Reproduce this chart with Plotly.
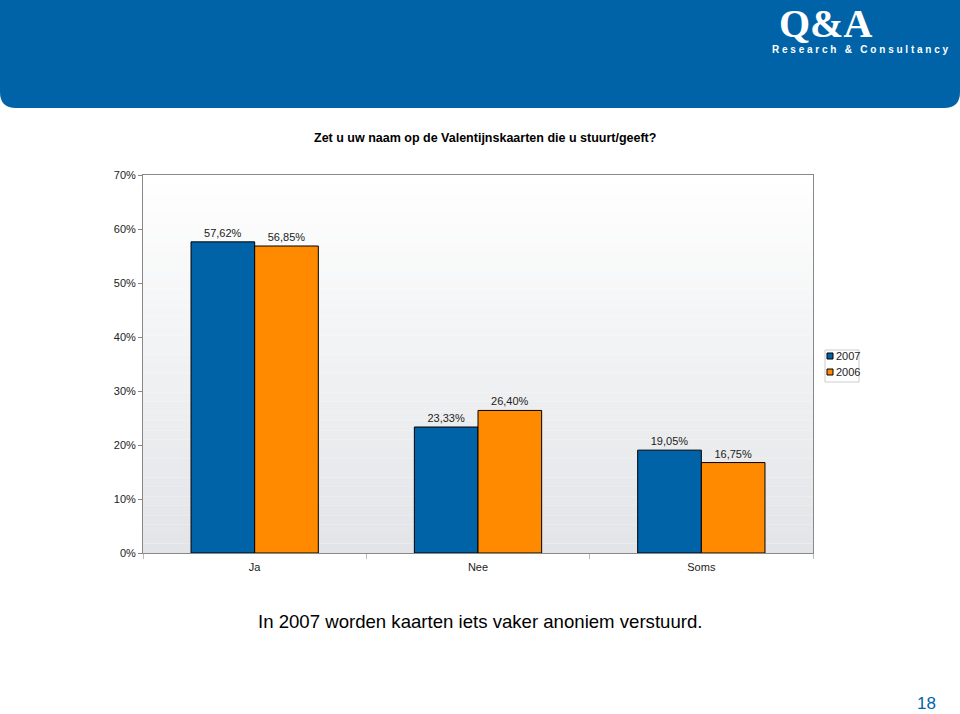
import plotly.graph_objects as go

categories = ["Ja", "Nee", "Soms"]
values_2007 = [0.5762, 0.2333, 0.1905]
values_2006 = [0.5685, 0.2640, 0.1675]
labels_2007 = ["57,62%", "23,33%", "19,05%"]
labels_2006 = ["56,85%", "26,40%", "16,75%"]
series_names = ["2007", "2006"]
y_ticks = [0, 0.1, 0.2, 0.3, 0.4, 0.5, 0.6, 0.7]
y_tick_labels = ["0%", "10%", "20%", "30%", "40%", "50%", "60%", "70%"]

BLUE = "#0063A8"
ORANGE = "#FF8A00"
FONT = "Liberation Sans, Arial, sans-serif"

W, H = 960, 714
L, R, T, B = 143, 813, 175, 553

def px_x(px):
    return (px - L) / (R - L)

def px_y(py):
    return (B - py) / (B - T)

fig = go.Figure()
fig.add_trace(go.Bar(
    x=categories, y=values_2007, name=series_names[0],
    marker=dict(color=BLUE, line=dict(color="#000000", width=1)),
    text=labels_2007, textposition="outside", cliponaxis=False,
    textfont=dict(size=11, color="#222222", family=FONT),
))
fig.add_trace(go.Bar(
    x=categories, y=values_2006, name=series_names[1],
    marker=dict(color=ORANGE, line=dict(color="#000000", width=1)),
    text=labels_2006, textposition="outside", cliponaxis=False,
    textfont=dict(size=11, color="#222222", family=FONT),
))

shapes = []
# gradient background of plot area
n = 40
top = (255, 255, 255)
bot = (226, 228, 231)
for i in range(n):
    f = (i + 0.5) / n
    c = tuple(round(top[k] + (bot[k] - top[k]) * f) for k in range(3))
    shapes.append(dict(
        type="rect", xref="x domain", yref="y domain",
        x0=0, x1=1, y0=1 - (i + 1) / n, y1=1 - i / n,
        fillcolor="rgb(%d,%d,%d)" % c, line=dict(width=0), layer="below",
    ))

# header banner with rounded bottom corners
x0, x1 = px_x(0), px_x(960)
y0, y1 = px_y(0), px_y(108)
rx = 16 / (R - L)
ry = 16 / (B - T)
path = (f"M {x0},{y0} L {x1},{y0} L {x1},{y1 + ry} Q {x1},{y1} {x1 - rx},{y1} "
        f"L {x0 + rx},{y1} Q {x0},{y1} {x0},{y1 + ry} Z")
shapes.append(dict(type="path", xref="paper", yref="paper", path=path,
                   fillcolor=BLUE, line=dict(width=0), layer="above"))

# custom small legend
shapes.append(dict(type="rect", xref="paper", yref="paper",
                   x0=px_x(825), x1=px_x(859), y0=px_y(350), y1=px_y(382),
                   fillcolor="#FFFFFF", line=dict(color="#CCCCCC", width=1)))
legend_colors = [BLUE, ORANGE]
legend_rows = [356, 372]
annotations = []
for name, col, ry_ in zip(series_names, legend_colors, legend_rows):
    shapes.append(dict(type="rect", xref="paper", yref="paper",
                       x0=px_x(827), x1=px_x(833), y0=px_y(ry_ + 3), y1=px_y(ry_ - 3),
                       fillcolor=col, line=dict(color="#000000", width=1)))
    annotations.append(dict(text=name, xref="paper", yref="paper", x=px_x(834), y=px_y(ry_),
                            showarrow=False, xanchor="left", yanchor="middle",
                            font=dict(size=11, color="#222222", family=FONT)))

annotations += [
    dict(text="<b>Zet u uw naam op de Valentijnskaarten die u stuurt/geeft?</b>",
         xref="paper", yref="paper", x=px_x(485), y=px_y(138), showarrow=False,
         font=dict(size=12.5, color="#000000", family=FONT), xanchor="center", yanchor="middle"),
    dict(text="In 2007 worden kaarten iets vaker anoniem verstuurd.",
         xref="paper", yref="paper", x=px_x(480), y=px_y(621), showarrow=False,
         font=dict(size=18.6, color="#000000", family=FONT), xanchor="center", yanchor="middle"),
    dict(text="18", xref="paper", yref="paper", x=px_x(926), y=px_y(703), showarrow=False,
         font=dict(size=17, color=BLUE, family=FONT), xanchor="center", yanchor="middle"),
    dict(text="<b>Q&amp;A</b>", xref="paper", yref="paper", x=px_x(825), y=px_y(24), showarrow=False,
         font=dict(size=40, color="#FFFFFF", family="Liberation Serif, Times New Roman, serif"),
         xanchor="center", yanchor="middle"),
    dict(text="<b>R e s e a r c h &nbsp; &amp; &nbsp; C o n s u l t a n c y</b>",
         xref="paper", yref="paper", x=px_x(860), y=px_y(49), showarrow=False,
         font=dict(size=10, color="#FFFFFF", family=FONT), xanchor="center", yanchor="middle"),
]

fig.update_layout(
    width=W, height=H,
    margin=dict(l=L, r=W - R, t=T, b=H - B, pad=0),
    paper_bgcolor="#FFFFFF", plot_bgcolor="rgba(0,0,0,0)",
    barmode="group", bargap=0.43, bargroupgap=0,
    font=dict(family=FONT, size=11, color="#000000"),
    showlegend=False,
    shapes=shapes, annotations=annotations,
)
fig.update_xaxes(
    showline=True, linecolor="#888888", linewidth=1, mirror=True,
    ticks="outside", tickson="boundaries", ticklen=5, tickcolor="#BBBBBB",
    ticklabelstandoff=4,
    showgrid=False, tickfont=dict(size=11, color="#222222"),
)
fig.update_yaxes(
    range=[0, 0.7], tickvals=y_ticks, ticktext=y_tick_labels,
    showline=True, linecolor="#888888", linewidth=1, mirror=True,
    ticks="outside", ticklen=4, tickcolor="#888888",
    showgrid=False, zeroline=False, tickfont=dict(size=11, color="#222222"),
)

fig.write_html("out.html", config={"displayModeBar": False},
               post_script="document.body.style.margin='0px';")
